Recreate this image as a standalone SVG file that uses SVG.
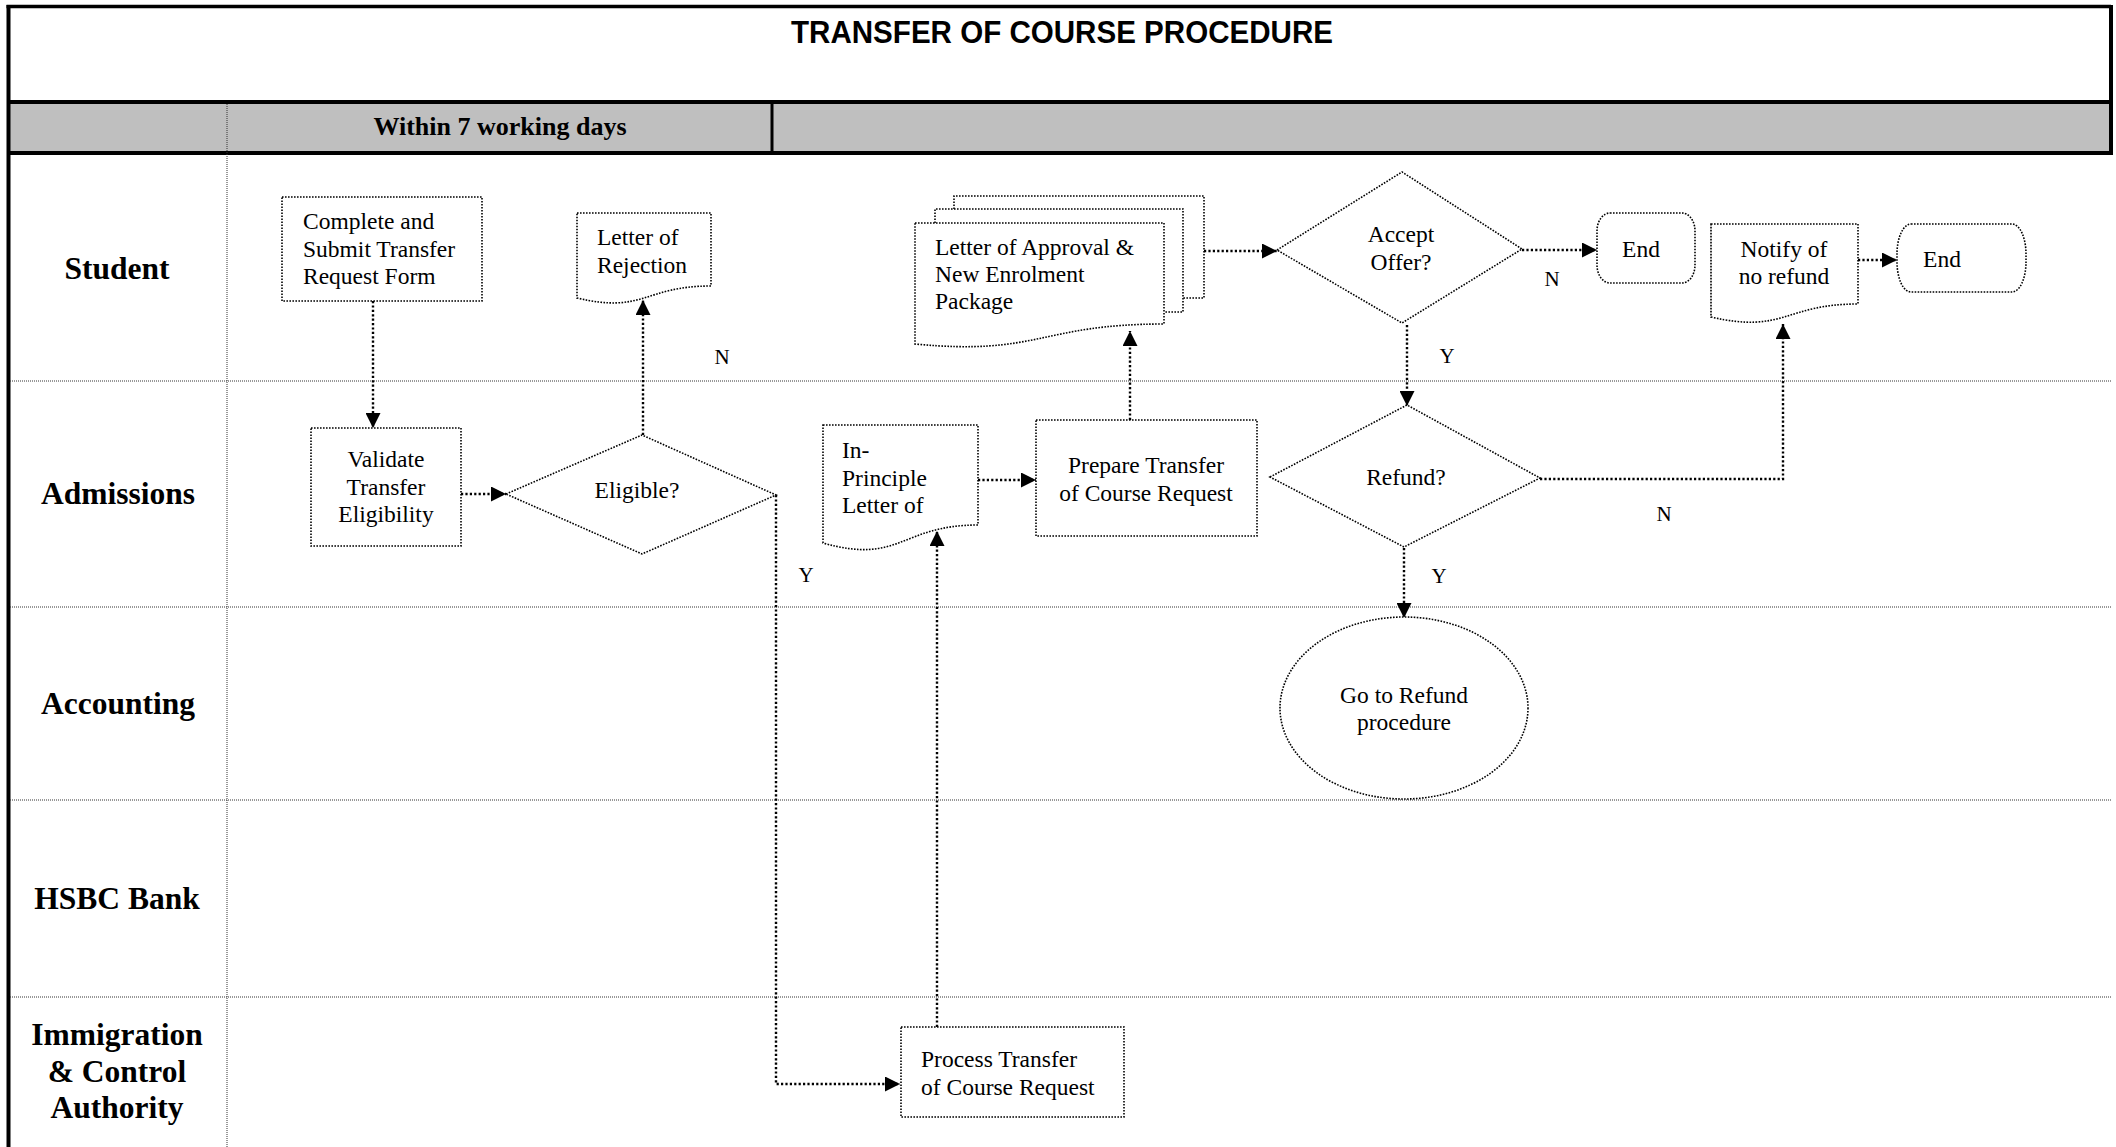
<svg xmlns="http://www.w3.org/2000/svg" width="2116" height="1147" viewBox="0 0 2116 1147">
<style>
.bg{fill:#fff}
.thick{stroke:#000;stroke-width:4;fill:none}
.lane{stroke:#333;stroke-width:1;stroke-dasharray:1 1;fill:none}
.shape{fill:#fff;stroke:#000;stroke-width:1.6;stroke-dasharray:1.6 1.4}
.back{fill:none;stroke:#000;stroke-width:1.6;stroke-dasharray:1.6 1.4}
.conn{fill:none;stroke:#000;stroke-width:2.4;stroke-dasharray:2.2 2.2}
.title{font-family:"Liberation Sans",Arial,sans-serif;font-weight:bold;font-size:31px}
.hdr{font-family:"Liberation Serif","Times New Roman",serif;font-weight:bold;font-size:26px}
.laneLbl{font-family:"Liberation Serif","Times New Roman",serif;font-weight:bold;font-size:31.5px;text-anchor:middle}
.t{font-family:"Liberation Serif","Times New Roman",serif;font-size:23.5px}
.c{text-anchor:middle}
.yn{font-family:"Liberation Serif","Times New Roman",serif;font-size:21px;text-anchor:middle}
</style>
<defs>
<marker id="arr" markerUnits="userSpaceOnUse" markerWidth="16" markerHeight="15" refX="15" refY="7.5" orient="auto">
<path d="M0,0 L15,7.5 L0,15 Z" fill="#000"/>
</marker>
</defs>
<rect class="bg" x="0" y="0" width="2116" height="1147"/>

<g id="frame">
<rect x="10" y="103" width="2101" height="50" fill="#bfbfbf"/>
<line class="thick" x1="6.5" y1="6.5" x2="2111" y2="6.5" style="stroke-width:3.5"/>
<line class="thick" x1="8.5" y1="5" x2="8.5" y2="1147"/>
<line class="thick" x1="2111" y1="5" x2="2111" y2="155"/>
<line class="thick" x1="7" y1="102" x2="2113" y2="102"/>
<line class="thick" x1="7" y1="153" x2="2113" y2="153"/>
<line class="thick" x1="772" y1="102" x2="772" y2="153" style="stroke-width:3"/>
<line class="lane" x1="227" y1="104" x2="227" y2="1147"/>
<line class="lane" x1="10" y1="381" x2="2111" y2="381"/>
<line class="lane" x1="10" y1="607" x2="2111" y2="607"/>
<line class="lane" x1="10" y1="800" x2="2111" y2="800"/>
<line class="lane" x1="10" y1="997" x2="2111" y2="997"/>
<text class="title" x="1062" y="43" text-anchor="middle" textLength="542" lengthAdjust="spacingAndGlyphs">TRANSFER OF COURSE PROCEDURE</text>
<text class="hdr" x="500" y="135" text-anchor="middle">Within 7 working days</text>
</g>

<g id="lanes">
<text class="laneLbl" x="117" y="279">Student</text>
<text class="laneLbl" x="118" y="504">Admissions</text>
<text class="laneLbl" x="118" y="714">Accounting</text>
<text class="laneLbl" x="117" y="909">HSBC Bank</text>
<text class="laneLbl" x="117" y="1045">Immigration</text>
<text class="laneLbl" x="117" y="1082">&amp; Control</text>
<text class="laneLbl" x="117" y="1118">Authority</text>
</g>

<g id="connectors">
<path class="conn" d="M373,301 V428" marker-end="url(#arr)"/>
<path class="conn" d="M461,494 H506" marker-end="url(#arr)"/>
<path class="conn" d="M643,435 V300" marker-end="url(#arr)"/>
<path class="conn" d="M776,495 V1084 H900" marker-end="url(#arr)"/>
<path class="conn" d="M937,1027 V531" marker-end="url(#arr)"/>
<path class="conn" d="M978,480 H1036" marker-end="url(#arr)"/>
<path class="conn" d="M1130,420 V331" marker-end="url(#arr)"/>
<path class="conn" d="M1204,251 H1277" marker-end="url(#arr)"/>
<path class="conn" d="M1522,250 H1597" marker-end="url(#arr)"/>
<path class="conn" d="M1407,325 V406" marker-end="url(#arr)"/>
<path class="conn" d="M1540,479 H1783 V324" marker-end="url(#arr)"/>
<path class="conn" d="M1404,548 V618" marker-end="url(#arr)"/>
<path class="conn" d="M1858,260 H1897" marker-end="url(#arr)"/>
<text class="yn" x="722" y="364">N</text>
<text class="yn" x="806" y="582">Y</text>
<text class="yn" x="1552" y="286">N</text>
<text class="yn" x="1447" y="363">Y</text>
<text class="yn" x="1664" y="521">N</text>
<text class="yn" x="1439" y="583">Y</text>
</g>

<g id="complete">
<rect class="shape" x="282" y="197" width="200" height="104"/>
<text class="t" x="303" y="229">Complete and</text>
<text class="t" x="303" y="257">Submit Transfer</text>
<text class="t" x="303" y="284">Request Form</text>
</g>

<g id="rejection">
<path class="shape" d="M577,213 H711 V286 C644,286 644,314 577,298 Z"/>
<text class="t" x="597" y="245">Letter of</text>
<text class="t" x="597" y="273">Rejection</text>
</g>

<g id="approval">
<path class="back" d="M954,209 V196 H1204 V298 H1183"/>
<path class="back" d="M935,223 V209 H1183 V312 H1164"/>
<path class="shape" d="M915,223 H1164 V324 C1039.5,324 1039.5,356 915,344 Z"/>
<text class="t" x="935" y="255">Letter of Approval &amp;</text>
<text class="t" x="935" y="282">New Enrolment</text>
<text class="t" x="935" y="309">Package</text>
</g>

<g id="accept">
<path class="shape" d="M1277,250 L1402,172 L1522,249 L1402,323 Z"/>
<text class="t c" x="1401" y="242">Accept</text>
<text class="t c" x="1401" y="270">Offer?</text>
</g>

<g id="end1">
<rect class="shape" x="1597" y="213" width="98" height="70" rx="13" ry="18"/>
<text class="t c" x="1641" y="257">End</text>
</g>

<g id="notify">
<path class="shape" d="M1711,224 H1858 V304 C1784.5,304 1784.5,334 1711,317 Z"/>
<text class="t c" x="1784" y="257">Notify of</text>
<text class="t c" x="1784" y="284">no refund</text>
</g>

<g id="end2">
<rect class="shape" x="1897" y="224" width="129" height="68" rx="14" ry="30"/>
<text class="t c" x="1942" y="267">End</text>
</g>

<g id="validate">
<rect class="shape" x="311" y="428" width="150" height="118"/>
<text class="t c" x="386" y="467">Validate</text>
<text class="t c" x="386" y="495">Transfer</text>
<text class="t c" x="386" y="522">Eligibility</text>
</g>

<g id="eligible">
<path class="shape" d="M506,494 L642,435 L776,495 L642,554 Z"/>
<text class="t c" x="637" y="498">Eligible?</text>
</g>

<g id="inprinciple">
<path class="shape" d="M823,425 H978 V525 C900.5,525 900.5,565 823,543 Z"/>
<text class="t" x="842" y="458">In-</text>
<text class="t" x="842" y="486">Principle</text>
<text class="t" x="842" y="513">Letter of</text>
</g>

<g id="prepare">
<rect class="shape" x="1036" y="420" width="221" height="116"/>
<text class="t c" x="1146" y="473">Prepare Transfer</text>
<text class="t c" x="1146" y="501">of Course Request</text>
</g>

<g id="refund">
<path class="shape" d="M1270,477 L1407,405 L1540,478 L1404,547 Z"/>
<text class="t c" x="1406" y="485">Refund?</text>
</g>

<g id="gorefund">
<ellipse class="shape" cx="1404" cy="708" rx="124" ry="91"/>
<text class="t c" x="1404" y="703">Go to Refund</text>
<text class="t c" x="1404" y="730">procedure</text>
</g>

<g id="process">
<rect class="shape" x="901" y="1027" width="223" height="90"/>
<text class="t" x="921" y="1067">Process Transfer</text>
<text class="t" x="921" y="1095">of Course Request</text>
</g>
</svg>
